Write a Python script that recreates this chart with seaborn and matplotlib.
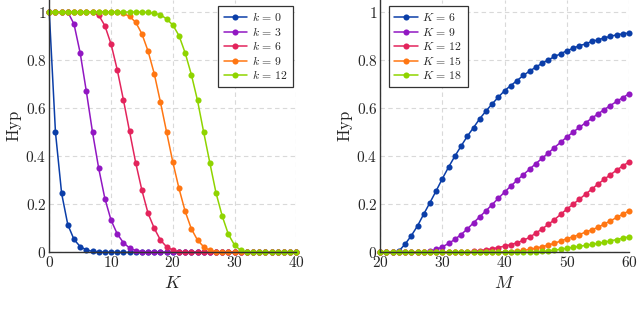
import numpy as np
import matplotlib
matplotlib.use("Agg")
import matplotlib.pyplot as plt
import seaborn as sns
from matplotlib.ticker import FuncFormatter

sns.set_style("whitegrid", {"grid.linestyle": (0, (4, 3)), "grid.color": "#d9d9d9"})
plt.rcParams['font.family'] = ['DejaVu Serif']
plt.rcParams['mathtext.fontset'] = 'cm'

# left panel: Hyp as a function of K
K_vals = list(range(0, 41))
hyp_k0 = [1, 0.5, 0.245, 0.115, 0.054, 0.024, 0.01, 0.004, 0.002, 0.001] + [0] * 31
hyp_k3 = [1, 1, 1, 1, 0.95, 0.83, 0.67, 0.5, 0.35, 0.224, 0.134, 0.077, 0.04, 0.018,
          0.007, 0.003, 0.001] + [0] * 24
hyp_k6 = [1] * 7 + [0.998, 0.987, 0.943, 0.867, 0.76, 0.635, 0.503, 0.372, 0.258, 0.162,
                    0.1, 0.051, 0.023, 0.009, 0.003, 0.001] + [0] * 18
hyp_k9 = [1] * 11 + [0.998, 0.994, 0.982, 0.957, 0.909, 0.837, 0.743, 0.625, 0.5, 0.376,
                     0.266, 0.171, 0.098, 0.051, 0.023, 0.008, 0.003, 0.001] + [0] * 12
hyp_k12 = [1] * 16 + [0.998, 0.994, 0.989, 0.971, 0.946, 0.902, 0.83, 0.74, 0.632, 0.5,
                      0.372, 0.247, 0.151, 0.075, 0.03, 0.008, 0.002] + [0] * 8
left_series = [hyp_k0, hyp_k3, hyp_k6, hyp_k9, hyp_k12]
left_labels = ['$k\\,=\\,0$', '$k\\,=\\,3$', '$k\\,=\\,6$', '$k\\,=\\,9$', '$k\\,=\\,12$']

# right panel: Hyp as a function of M
M_vals = list(range(20, 61))
hyp_K6 = [0, 0, 0, 0.005, 0.034, 0.069, 0.11, 0.159, 0.207, 0.256, 0.307, 0.355, 0.4,
          0.442, 0.483, 0.519, 0.556, 0.588, 0.618, 0.646, 0.673, 0.694, 0.715, 0.736,
          0.754, 0.77, 0.787, 0.8, 0.815, 0.826, 0.839, 0.849, 0.86, 0.867, 0.878, 0.884,
          0.892, 0.899, 0.905, 0.909, 0.913]
hyp_K9 = [0] * 7 + [0.001, 0.005, 0.012, 0.023, 0.037, 0.054, 0.074, 0.097, 0.123, 0.148,
                    0.173, 0.199, 0.225, 0.251, 0.276, 0.3, 0.323, 0.346, 0.369, 0.391,
                    0.413, 0.436, 0.458, 0.48, 0.5, 0.52, 0.539, 0.558, 0.576, 0.594,
                    0.611, 0.628, 0.644, 0.66]
hyp_K12 = [0] * 13 + [0.001, 0.002, 0.004, 0.007, 0.011, 0.015, 0.02, 0.026, 0.032, 0.04,
                      0.05, 0.062, 0.08, 0.097, 0.116, 0.136, 0.158, 0.18, 0.2, 0.221,
                      0.242, 0.263, 0.284, 0.304, 0.323, 0.342, 0.36, 0.376]
hyp_K15 = [0] * 19 + [0.001, 0.002, 0.003, 0.005, 0.008, 0.012, 0.017, 0.023, 0.03, 0.038,
                      0.047, 0.057, 0.065, 0.074, 0.084, 0.094, 0.104, 0.118, 0.131, 0.145,
                      0.159, 0.173]
hyp_K18 = [0] * 24 + [0.001, 0.002, 0.004, 0.006, 0.009, 0.013, 0.017, 0.021, 0.025, 0.029,
                      0.033, 0.037, 0.042, 0.048, 0.053, 0.059, 0.065]
right_series = [hyp_K6, hyp_K9, hyp_K12, hyp_K15, hyp_K18]
right_labels = ['$K\\,=\\,6$', '$K\\,=\\,9$', '$K\\,=\\,12$', '$K\\,=\\,15$', '$K\\,=\\,18$']

colors = ['#0b3ea8', '#9117c2', '#e3245c', '#ff7612', '#8fd400']

fig = plt.figure(figsize=(6.4, 3.1), dpi=100)
ax1 = fig.add_axes([0.077, 0.186, 0.386, 0.814])
ax2 = fig.add_axes([0.594, 0.186, 0.389, 0.814])

fmt = FuncFormatter(lambda v, p: '$%g$' % round(v, 2))


def draw(ax, x, series, labels, xlim, xlabel, legend_loc, anchor):
    for ys, lab, c in zip(series, labels, colors):
        sns.lineplot(x=x, y=ys, ax=ax, color=c, marker='o', markersize=4.4,
                     markeredgewidth=0, linewidth=1.1, label=lab, clip_on=False)
    ax.set_xlim(*xlim)
    ax.set_ylim(0, 1.05)
    ax.set_xticks(np.arange(xlim[0], xlim[1] + 1, 10))
    ax.set_yticks([0, 0.2, 0.4, 0.6, 0.8, 1])
    ax.xaxis.set_major_formatter(fmt)
    ax.yaxis.set_major_formatter(fmt)
    ax.tick_params(labelsize=11, length=0, pad=2)
    for s in ['top', 'right']:
        ax.spines[s].set_visible(False)
    for s in ['left', 'bottom']:
        ax.spines[s].set_color('#333333')
        ax.spines[s].set_linewidth(1.0)
    ax.set_xlabel(xlabel, fontsize=13, labelpad=3)
    ax.set_ylabel('$\\mathrm{Hyp}$', fontsize=12, labelpad=1)
    leg = ax.legend(loc=legend_loc, bbox_to_anchor=anchor, fontsize=8.5, frameon=True,
                    fancybox=False, framealpha=1, edgecolor='#333333',
                    handlelength=2.0, borderpad=0.45, labelspacing=0.12, handletextpad=0.4,
                    borderaxespad=0.2)
    leg.get_frame().set_linewidth(0.9)


draw(ax1, K_vals, left_series, left_labels, (0, 40), '$K$', 'upper right', (0.997, 0.985))
draw(ax2, M_vals, right_series, right_labels, (20, 60), '$M$', 'upper left', (0.025, 0.985))

fig.savefig('out.png', dpi=100)
